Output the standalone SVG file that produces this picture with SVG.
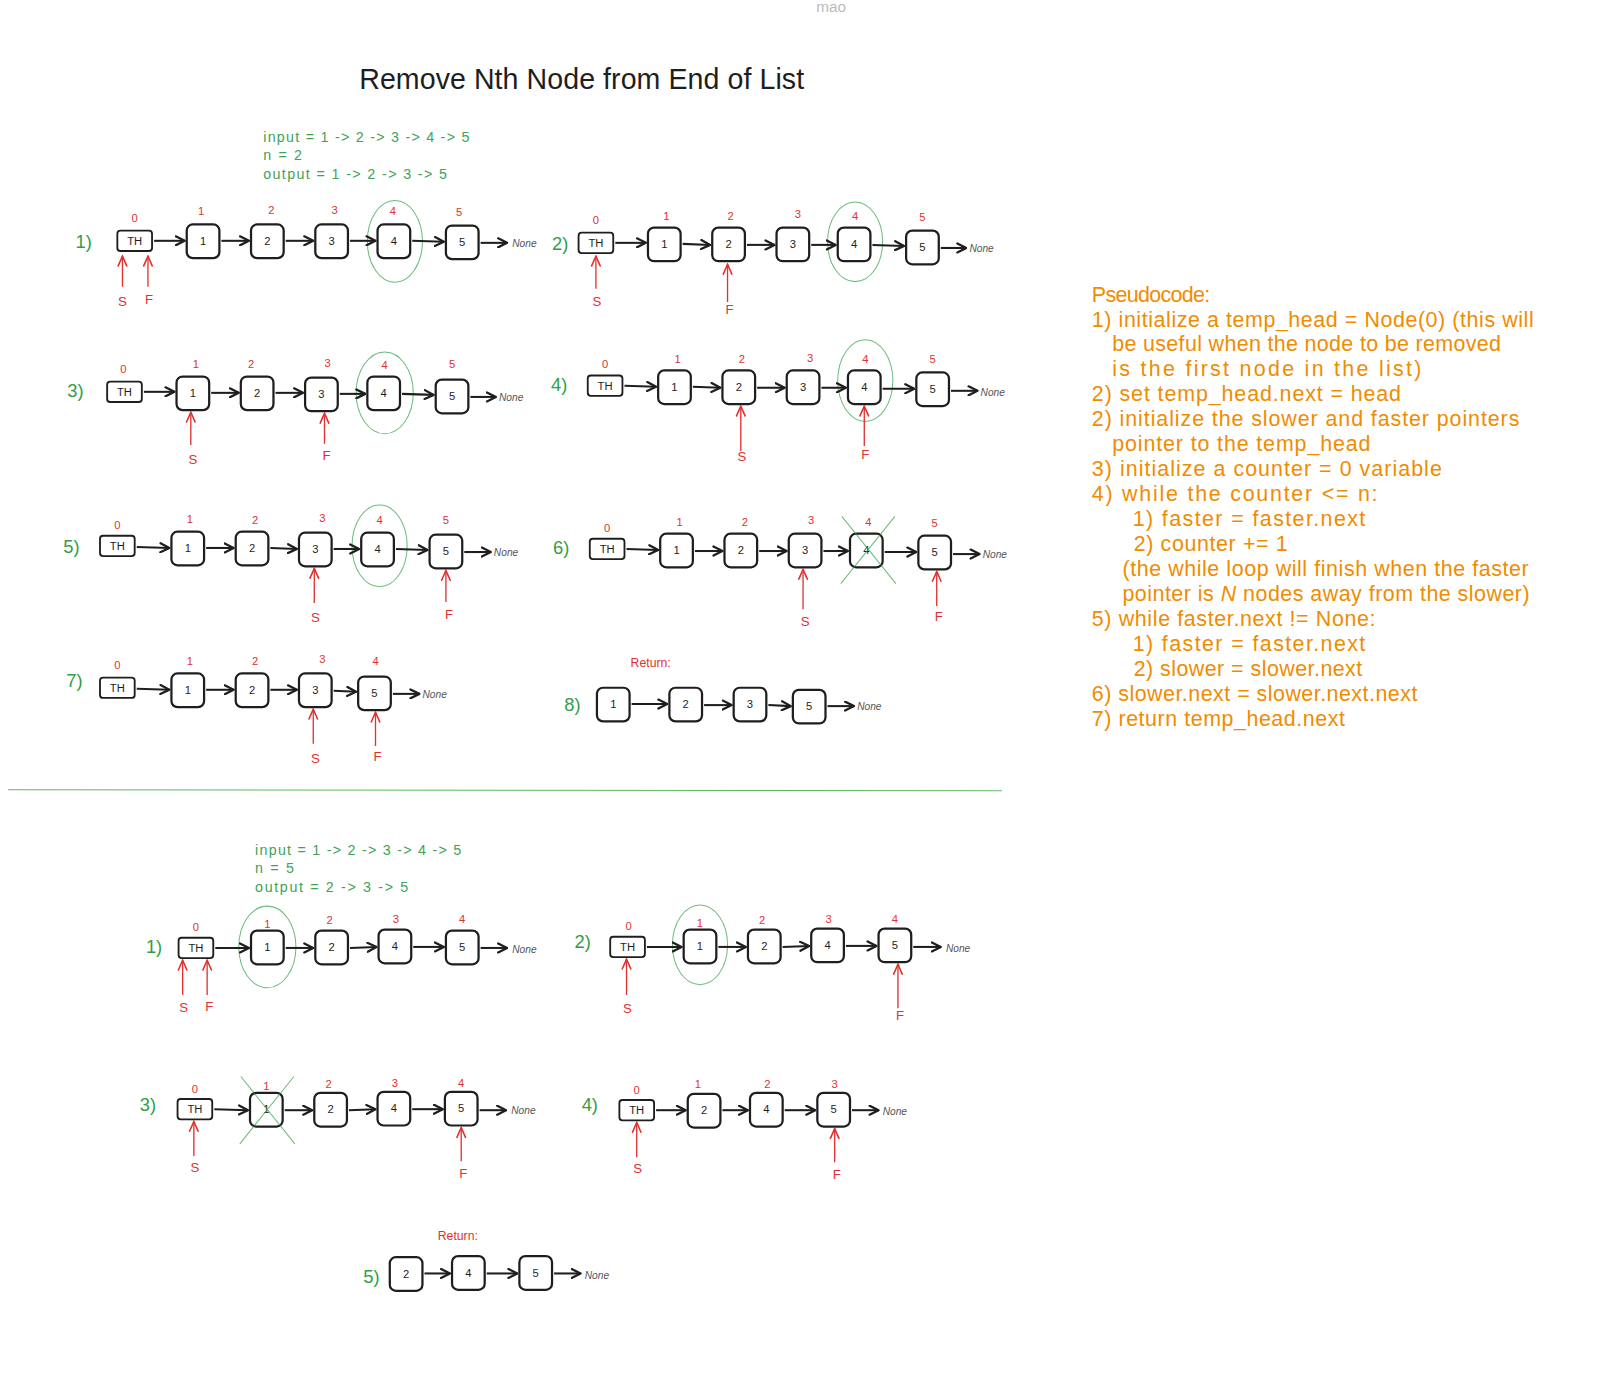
<svg xmlns="http://www.w3.org/2000/svg" width="1600" height="1391" viewBox="0 0 1600 1391">
<defs>
<marker id="ah" viewBox="0 0 10 10" refX="9" refY="5" markerWidth="11" markerHeight="11" markerUnits="userSpaceOnUse" orient="auto"><path d="M1,1 L9,5 L1,9" fill="none" stroke="#1e1e1e" stroke-width="2" stroke-linecap="round" stroke-linejoin="round"/></marker>
<marker id="rh" viewBox="0 0 10 10" refX="9" refY="5" markerWidth="12" markerHeight="12" markerUnits="userSpaceOnUse" orient="auto"><path d="M1,1.5 L9,5 L1,8.5" fill="none" stroke="#e03131" stroke-width="1.3" stroke-linecap="round"/></marker>
<style>
.bx{fill:#fff;stroke:#1e1e1e;stroke-width:2.2}
.th{fill:#fff;stroke:#1e1e1e;stroke-width:1.8}
.nt{font-family:"Liberation Sans",Arial,sans-serif;font-size:11px;fill:#1e1e1e;text-anchor:middle}
.idx{font-family:"Liberation Sans",Arial,sans-serif;font-size:11px;fill:#e03131;text-anchor:middle}
.st{font-family:"Liberation Sans",Arial,sans-serif;font-size:18px;fill:#2f9e44}
.no{font-family:"Liberation Sans",Arial,sans-serif;font-size:10px;fill:#555;font-style:italic}
.gt{font-family:"Liberation Sans",Arial,sans-serif;font-size:14px;fill:#40a356}
.rt{font-family:"Liberation Sans",Arial,sans-serif;font-size:12px;fill:#e03131}
.pl{font-family:"Liberation Sans",Arial,sans-serif;font-size:13px;fill:#e03131;text-anchor:middle}
.ln{stroke:#1e1e1e;stroke-width:2;fill:none;marker-end:url(#ah)}
.pt{stroke:#e03131;stroke-width:1.3;fill:none;marker-end:url(#rh)}
.el{fill:none;stroke:#2f9e44;stroke-width:1;opacity:0.7}
.ps{font-family:"Liberation Sans",Arial,sans-serif;font-size:21px;fill:#f08c00}
</style>
</defs>
<rect width="1600" height="1391" fill="#fff"/>
<g transform="scale(1.0204)">
<text x="800" y="12" font-family="Liberation Sans, Arial, sans-serif" font-size="15" fill="#bbb">mao</text>
<text x="352" y="87" font-family="Liberation Sans, Arial, sans-serif" font-size="28" fill="#1e1e1e" textLength="436">Remove Nth Node from End of List</text>
<g id="info-a">
<text class="gt" x="258" y="139" textLength="202">input = 1 -&gt; 2 -&gt; 3 -&gt; 4 -&gt; 5</text>
<text class="gt" x="258" y="157" textLength="38">n = 2</text>
<text class="gt" x="258" y="175" textLength="180">output = 1 -&gt; 2 -&gt; 3 -&gt; 5</text>
</g>

<!-- Row A1 -->
<g id="a1-labels">
<text class="st" x="74" y="243">1)</text>
<text class="idx" x="132" y="218">0</text><text class="idx" x="197" y="211">1</text><text class="idx" x="266" y="210">2</text><text class="idx" x="328" y="210">3</text><text class="idx" x="385" y="211">4</text><text class="idx" x="450" y="212">5</text>
<text class="no" x="502" y="242">None</text>
<ellipse class="el" cx="387" cy="236.5" rx="27" ry="40"/>
<text class="pl" x="120" y="300">S</text><text class="pl" x="146" y="298">F</text>
</g>
<g id="a1-th"><rect class="th" x="115" y="226" width="34" height="20" rx="3"/><text class="nt" x="132" y="240">TH</text></g>
<g id="a1-n1"><rect class="bx" x="183" y="220" width="32" height="33" rx="6"/><text class="nt" x="199" y="240">1</text></g>
<g id="a1-n2"><rect class="bx" x="246" y="220" width="32" height="33" rx="6"/><text class="nt" x="262" y="240">2</text></g>
<g id="a1-n3"><rect class="bx" x="309" y="220" width="32" height="33" rx="6"/><text class="nt" x="325" y="240">3</text></g>
<g id="a1-n4"><rect class="bx" x="370" y="220" width="32" height="33" rx="6"/><text class="nt" x="386" y="240">4</text></g>
<g id="a1-n5"><rect class="bx" x="437" y="221" width="32" height="33" rx="6"/><text class="nt" x="453" y="241">5</text></g>

<!-- Row A2 -->
<g id="a2-labels">
<text class="st" x="541" y="245">2)</text>
<text class="idx" x="584" y="220">0</text><text class="idx" x="653" y="216">1</text><text class="idx" x="716" y="216">2</text><text class="idx" x="782" y="214">3</text><text class="idx" x="838" y="216">4</text><text class="idx" x="904" y="217">5</text>
<text class="no" x="950" y="247">None</text>
<ellipse class="el" cx="838" cy="237" rx="27" ry="39"/>
<text class="pl" x="585" y="300">S</text><text class="pl" x="715" y="308">F</text>
</g>
<g id="a2-th"><rect class="th" x="567" y="228" width="34" height="20" rx="3"/><text class="nt" x="584" y="242">TH</text></g>
<g id="a2-n1"><rect class="bx" x="635" y="223" width="32" height="33" rx="6"/><text class="nt" x="651" y="243">1</text></g>
<g id="a2-n2"><rect class="bx" x="698" y="223" width="32" height="33" rx="6"/><text class="nt" x="714" y="243">2</text></g>
<g id="a2-n3"><rect class="bx" x="761" y="223" width="32" height="33" rx="6"/><text class="nt" x="777" y="243">3</text></g>
<g id="a2-n4"><rect class="bx" x="821" y="223" width="32" height="33" rx="6"/><text class="nt" x="837" y="243">4</text></g>
<g id="a2-n5"><rect class="bx" x="888" y="226" width="32" height="33" rx="6"/><text class="nt" x="904" y="246">5</text></g>

<!-- Row A3 -->
<g id="a3-labels">
<text class="st" x="66" y="389">3)</text>
<text class="idx" x="121" y="366">0</text><text class="idx" x="192" y="361">1</text><text class="idx" x="246" y="361">2</text><text class="idx" x="321" y="360">3</text><text class="idx" x="377" y="362">4</text><text class="idx" x="443" y="361">5</text>
<text class="no" x="489" y="393">None</text>
<ellipse class="el" cx="377" cy="385" rx="28" ry="40"/>
<text class="pl" x="189" y="455">S</text><text class="pl" x="320" y="451">F</text>
</g>
<g id="a3-th"><rect class="th" x="105" y="374" width="34" height="20" rx="3"/><text class="nt" x="122" y="388">TH</text></g>
<g id="a3-n1"><rect class="bx" x="173" y="369" width="32" height="33" rx="6"/><text class="nt" x="189" y="389">1</text></g>
<g id="a3-n2"><rect class="bx" x="236" y="369" width="32" height="33" rx="6"/><text class="nt" x="252" y="389">2</text></g>
<g id="a3-n3"><rect class="bx" x="299" y="370" width="32" height="33" rx="6"/><text class="nt" x="315" y="390">3</text></g>
<g id="a3-n4"><rect class="bx" x="360" y="369" width="32" height="33" rx="6"/><text class="nt" x="376" y="389">4</text></g>
<g id="a3-n5"><rect class="bx" x="427" y="372" width="32" height="33" rx="6"/><text class="nt" x="443" y="392">5</text></g>

<!-- Row A4 -->
<g id="a4-labels">
<text class="st" x="540" y="383">4)</text>
<text class="idx" x="593" y="361">0</text><text class="idx" x="664" y="356">1</text><text class="idx" x="727" y="356">2</text><text class="idx" x="794" y="355">3</text><text class="idx" x="848" y="356">4</text><text class="idx" x="914" y="356">5</text>
<text class="no" x="961" y="388">None</text>
<ellipse class="el" cx="848" cy="373" rx="27" ry="40"/>
<text class="pl" x="727" y="452">S</text><text class="pl" x="848" y="450">F</text>
</g>
<g id="a4-th"><rect class="th" x="576" y="368" width="34" height="20" rx="3"/><text class="nt" x="593" y="382">TH</text></g>
<g id="a4-n1"><rect class="bx" x="645" y="363" width="32" height="33" rx="6"/><text class="nt" x="661" y="383">1</text></g>
<g id="a4-n2"><rect class="bx" x="708" y="363" width="32" height="33" rx="6"/><text class="nt" x="724" y="383">2</text></g>
<g id="a4-n3"><rect class="bx" x="771" y="363" width="32" height="33" rx="6"/><text class="nt" x="787" y="383">3</text></g>
<g id="a4-n4"><rect class="bx" x="831" y="363" width="32" height="33" rx="6"/><text class="nt" x="847" y="383">4</text></g>
<g id="a4-n5"><rect class="bx" x="898" y="365" width="32" height="33" rx="6"/><text class="nt" x="914" y="385">5</text></g>

<!-- Row A5 -->
<g id="a5-labels">
<text class="st" x="62" y="542">5)</text>
<text class="idx" x="115" y="518">0</text><text class="idx" x="186" y="513">1</text><text class="idx" x="250" y="514">2</text><text class="idx" x="316" y="512">3</text><text class="idx" x="372" y="514">4</text><text class="idx" x="437" y="514">5</text>
<text class="no" x="484" y="545">None</text>
<ellipse class="el" cx="372" cy="535" rx="27" ry="40"/>
<text class="pl" x="309" y="610">S</text><text class="pl" x="440" y="607">F</text>
</g>
<g id="a5-th"><rect class="th" x="98" y="525" width="34" height="20" rx="3"/><text class="nt" x="115" y="539">TH</text></g>
<g id="a5-n1"><rect class="bx" x="168" y="521" width="32" height="33" rx="6"/><text class="nt" x="184" y="541">1</text></g>
<g id="a5-n2"><rect class="bx" x="231" y="521" width="32" height="33" rx="6"/><text class="nt" x="247" y="541">2</text></g>
<g id="a5-n3"><rect class="bx" x="293" y="522" width="32" height="33" rx="6"/><text class="nt" x="309" y="542">3</text></g>
<g id="a5-n4"><rect class="bx" x="354" y="522" width="32" height="33" rx="6"/><text class="nt" x="370" y="542">4</text></g>
<g id="a5-n5"><rect class="bx" x="421" y="524" width="32" height="33" rx="6"/><text class="nt" x="437" y="544">5</text></g>

<!-- Row A6 -->
<g id="a6-labels">
<text class="st" x="542" y="543">6)</text>
<text class="idx" x="595" y="521">0</text><text class="idx" x="666" y="515">1</text><text class="idx" x="730" y="515">2</text><text class="idx" x="795" y="514">3</text><text class="idx" x="851" y="515">4</text><text class="idx" x="916" y="516">5</text>
<text class="no" x="963" y="547">None</text>
<text class="pl" x="789" y="613">S</text><text class="pl" x="920" y="609">F</text>
</g>
<g id="a6-th"><rect class="th" x="578" y="528" width="34" height="20" rx="3"/><text class="nt" x="595" y="542">TH</text></g>
<g id="a6-n1"><rect class="bx" x="647" y="523" width="32" height="33" rx="6"/><text class="nt" x="663" y="543">1</text></g>
<g id="a6-n2"><rect class="bx" x="710" y="523" width="32" height="33" rx="6"/><text class="nt" x="726" y="543">2</text></g>
<g id="a6-n3"><rect class="bx" x="773" y="523" width="32" height="33" rx="6"/><text class="nt" x="789" y="543">3</text></g>
<g id="a6-n4"><rect class="bx" x="833" y="523" width="32" height="33" rx="6"/><text class="nt" x="849" y="543">4</text>
<path d="M825,506 L878,572 M877,506 L824,572" class="el"/></g>
<g id="a6-n5"><rect class="bx" x="900" y="525" width="32" height="33" rx="6"/><text class="nt" x="916" y="545">5</text></g>

<!-- Row A7 -->
<g id="a7-labels">
<text class="st" x="65" y="673">7)</text>
<text class="idx" x="115" y="656">0</text><text class="idx" x="186" y="652">1</text><text class="idx" x="250" y="652">2</text><text class="idx" x="316" y="650">3</text><text class="idx" x="368" y="652">4</text>
<text class="no" x="414" y="684">None</text>
<text class="pl" x="309" y="748">S</text><text class="pl" x="370" y="746">F</text>
</g>
<g id="a7-th"><rect class="th" x="98" y="664" width="34" height="20" rx="3"/><text class="nt" x="115" y="678">TH</text></g>
<g id="a7-n1"><rect class="bx" x="168" y="660" width="32" height="33" rx="6"/><text class="nt" x="184" y="680">1</text></g>
<g id="a7-n2"><rect class="bx" x="231" y="660" width="32" height="33" rx="6"/><text class="nt" x="247" y="680">2</text></g>
<g id="a7-n3"><rect class="bx" x="293" y="660" width="32" height="33" rx="6"/><text class="nt" x="309" y="680">3</text></g>
<g id="a7-n5"><rect class="bx" x="351" y="663" width="32" height="33" rx="6"/><text class="nt" x="367" y="683">5</text></g>

<!-- Row A8 -->
<g id="a8-labels">
<text class="rt" x="618" y="654">Return:</text>
<text class="st" x="553" y="697">8)</text>
<text class="no" x="840" y="696">None</text>
</g>
<g id="a8-n1"><rect class="bx" x="585" y="674" width="32" height="33" rx="6"/><text class="nt" x="601" y="694">1</text></g>
<g id="a8-n2"><rect class="bx" x="656" y="674" width="32" height="33" rx="6"/><text class="nt" x="672" y="694">2</text></g>
<g id="a8-n3"><rect class="bx" x="719" y="674" width="32" height="33" rx="6"/><text class="nt" x="735" y="694">3</text></g>
<g id="a8-n5"><rect class="bx" x="777" y="676" width="32" height="33" rx="6"/><text class="nt" x="793" y="696">5</text></g>

<line x1="8" y1="774" x2="982" y2="775" stroke="#5cb85c" stroke-width="1"/>

<g id="info-b">
<text class="gt" x="250" y="838" textLength="202">input = 1 -&gt; 2 -&gt; 3 -&gt; 4 -&gt; 5</text>
<text class="gt" x="250" y="856" textLength="38">n = 5</text>
<text class="gt" x="250" y="874" textLength="150">output = 2 -&gt; 3 -&gt; 5</text>
</g>

<!-- Row B1 -->
<g id="b1-labels">
<text class="st" x="143" y="934">1)</text>
<text class="idx" x="192" y="912">0</text><text class="idx" x="262" y="909">1</text><text class="idx" x="323" y="906">2</text><text class="idx" x="388" y="905">3</text><text class="idx" x="453" y="905">4</text>
<text class="no" x="502" y="934">None</text>
<ellipse class="el" cx="262" cy="928" rx="28" ry="40"/>
<text class="pl" x="180" y="992">S</text><text class="pl" x="205" y="991">F</text>
</g>
<g id="b1-th"><rect class="th" x="175" y="919" width="34" height="20" rx="3"/><text class="nt" x="192" y="933">TH</text></g>
<g id="b1-n1"><rect class="bx" x="246" y="912" width="32" height="33" rx="6"/><text class="nt" x="262" y="932">1</text></g>
<g id="b1-n2"><rect class="bx" x="309" y="912" width="32" height="33" rx="6"/><text class="nt" x="325" y="932">2</text></g>
<g id="b1-n4"><rect class="bx" x="371" y="911" width="32" height="33" rx="6"/><text class="nt" x="387" y="931">4</text></g>
<g id="b1-n5"><rect class="bx" x="437" y="912" width="32" height="33" rx="6"/><text class="nt" x="453" y="932">5</text></g>

<!-- Row B2 -->
<g id="b2-labels">
<text class="st" x="563" y="929">2)</text>
<text class="idx" x="616" y="911">0</text><text class="idx" x="686" y="908">1</text><text class="idx" x="747" y="906">2</text><text class="idx" x="812" y="905">3</text><text class="idx" x="877" y="905">4</text>
<text class="no" x="927" y="933">None</text>
<ellipse class="el" cx="686" cy="926" rx="27" ry="39"/>
<text class="pl" x="615" y="993">S</text><text class="pl" x="882" y="1000">F</text>
</g>
<g id="b2-th"><rect class="th" x="598" y="918" width="34" height="20" rx="3"/><text class="nt" x="615" y="932">TH</text></g>
<g id="b2-n1"><rect class="bx" x="670" y="911" width="32" height="33" rx="6"/><text class="nt" x="686" y="931">1</text></g>
<g id="b2-n2"><rect class="bx" x="733" y="911" width="32" height="33" rx="6"/><text class="nt" x="749" y="931">2</text></g>
<g id="b2-n4"><rect class="bx" x="795" y="910" width="32" height="33" rx="6"/><text class="nt" x="811" y="930">4</text></g>
<g id="b2-n5"><rect class="bx" x="861" y="910" width="32" height="33" rx="6"/><text class="nt" x="877" y="930">5</text></g>

<!-- Row B3 -->
<g id="b3-labels">
<text class="st" x="137" y="1089">3)</text>
<text class="idx" x="191" y="1071">0</text><text class="idx" x="261" y="1068">1</text><text class="idx" x="322" y="1066">2</text><text class="idx" x="387" y="1065">3</text><text class="idx" x="452" y="1065">4</text>
<text class="no" x="501" y="1092">None</text>
<text class="pl" x="191" y="1149">S</text><text class="pl" x="454" y="1154">F</text>
</g>
<g id="b3-th"><rect class="th" x="174" y="1077" width="34" height="20" rx="3"/><text class="nt" x="191" y="1091">TH</text></g>
<g id="b3-n1"><rect class="bx" x="245" y="1071" width="32" height="33" rx="6"/><text class="nt" x="261" y="1091">1</text>
<path d="M236,1055 L289,1121 M288,1055 L235,1121" class="el"/></g>
<g id="b3-n2"><rect class="bx" x="308" y="1071" width="32" height="33" rx="6"/><text class="nt" x="324" y="1091">2</text></g>
<g id="b3-n4"><rect class="bx" x="370" y="1070" width="32" height="33" rx="6"/><text class="nt" x="386" y="1090">4</text></g>
<g id="b3-n5"><rect class="bx" x="436" y="1070" width="32" height="33" rx="6"/><text class="nt" x="452" y="1090">5</text></g>

<!-- Row B4 -->
<g id="b4-labels">
<text class="st" x="570" y="1089">4)</text>
<text class="idx" x="624" y="1072">0</text><text class="idx" x="684" y="1066">1</text><text class="idx" x="752" y="1066">2</text><text class="idx" x="818" y="1066">3</text>
<text class="no" x="865" y="1093">None</text>
<text class="pl" x="625" y="1150">S</text><text class="pl" x="820" y="1155">F</text>
</g>
<g id="b4-th"><rect class="th" x="607" y="1078" width="34" height="20" rx="3"/><text class="nt" x="624" y="1092">TH</text></g>
<g id="b4-n2"><rect class="bx" x="674" y="1072" width="32" height="33" rx="6"/><text class="nt" x="690" y="1092">2</text></g>
<g id="b4-n4"><rect class="bx" x="735" y="1071" width="32" height="33" rx="6"/><text class="nt" x="751" y="1091">4</text></g>
<g id="b4-n5"><rect class="bx" x="801" y="1071" width="32" height="33" rx="6"/><text class="nt" x="817" y="1091">5</text></g>

<!-- Row B5 -->
<g id="b5-labels">
<text class="rt" x="429" y="1215">Return:</text>
<text class="st" x="356" y="1257">5)</text>
<text class="no" x="573" y="1253">None</text>
</g>
<g id="b5-n2"><rect class="bx" x="382" y="1232" width="32" height="33" rx="6"/><text class="nt" x="398" y="1252">2</text></g>
<g id="b5-n4"><rect class="bx" x="443" y="1231" width="32" height="33" rx="6"/><text class="nt" x="459" y="1251">4</text></g>
<g id="b5-n5"><rect class="bx" x="509" y="1231" width="32" height="33" rx="6"/><text class="nt" x="525" y="1251">5</text></g>

<g id="connectors">
<!-- A1 -->
<path class="ln" d="M151,236 L181,236"/><path class="ln" d="M217,236 L244,236"/><path class="ln" d="M280,236 L307,236"/><path class="ln" d="M343,236 L368,236"/><path class="ln" d="M404,236 L435,237"/><path class="ln" d="M471,238 L497,238"/>
<path class="pt" d="M120,281 L120,251"/><path class="pt" d="M145,281 L145,251"/>
<!-- A2 -->
<path class="ln" d="M603,238 L633,238"/><path class="ln" d="M669,239 L696,240"/><path class="ln" d="M732,240 L759,240"/><path class="ln" d="M795,240 L819,240"/><path class="ln" d="M855,240 L886,241"/><path class="ln" d="M922,243 L947,243"/>
<path class="pt" d="M584,283 L584,251"/><path class="pt" d="M713,296 L713,259"/>
<!-- A3 -->
<path class="ln" d="M141,384 L171,384"/><path class="ln" d="M207,385 L234,385"/><path class="ln" d="M270,385 L297,385"/><path class="ln" d="M333,386 L358,386"/><path class="ln" d="M394,386 L425,387"/><path class="ln" d="M461,389 L486,389"/>
<path class="pt" d="M187,436 L187,404"/><path class="pt" d="M318,435 L318,405"/>
<!-- A4 -->
<path class="ln" d="M612,378 L643,379"/><path class="ln" d="M679,379 L706,380"/><path class="ln" d="M742,380 L769,380"/><path class="ln" d="M805,380 L829,380"/><path class="ln" d="M865,381 L896,381"/><path class="ln" d="M932,383 L958,383"/>
<path class="pt" d="M726,442 L726,398"/><path class="pt" d="M847,437 L847,398"/>
<!-- A5 -->
<path class="ln" d="M134,536 L166,537"/><path class="ln" d="M202,537 L229,537"/><path class="ln" d="M265,537 L291,538"/><path class="ln" d="M327,538 L352,538"/><path class="ln" d="M388,538 L419,539"/><path class="ln" d="M455,541 L481,541"/>
<path class="pt" d="M308,591 L308,557"/><path class="pt" d="M437,590 L437,559"/>
<!-- A6 -->
<path class="ln" d="M614,538 L645,539"/><path class="ln" d="M681,540 L708,540"/><path class="ln" d="M744,540 L771,540"/><path class="ln" d="M807,540 L831,540"/><path class="ln" d="M867,541 L898,541"/><path class="ln" d="M934,543 L960,543"/>
<path class="pt" d="M787,597 L787,558"/><path class="pt" d="M918,594 L918,560"/>
<!-- A7 -->
<path class="ln" d="M134,675 L166,676"/><path class="ln" d="M202,676 L229,676"/><path class="ln" d="M265,676 L291,676"/><path class="ln" d="M327,677 L349,678"/><path class="ln" d="M385,680 L411,680"/>
<path class="pt" d="M307,729 L307,695"/><path class="pt" d="M368,731 L368,698"/>
<!-- A8 -->
<path class="ln" d="M619,690 L654,690"/><path class="ln" d="M690,691 L717,691"/><path class="ln" d="M753,691 L775,692"/><path class="ln" d="M811,692 L837,692"/>
<!-- B1 -->
<path class="ln" d="M211,929 L244,929"/><path class="ln" d="M280,929 L307,929"/><path class="ln" d="M343,929 L369,928"/><path class="ln" d="M405,928 L435,928"/><path class="ln" d="M471,929 L497,929"/>
<path class="pt" d="M179,975 L179,941"/><path class="pt" d="M203,975 L203,941"/>
<!-- B2 -->
<path class="ln" d="M634,928 L668,928"/><path class="ln" d="M704,928 L731,928"/><path class="ln" d="M767,928 L793,927"/><path class="ln" d="M829,927 L859,927"/><path class="ln" d="M895,928 L922,928"/>
<path class="pt" d="M614,975 L614,940"/><path class="pt" d="M880,988 L880,945"/>
<!-- B3 -->
<path class="ln" d="M210,1087 L243,1088"/><path class="ln" d="M279,1088 L306,1088"/><path class="ln" d="M342,1088 L368,1087"/><path class="ln" d="M404,1087 L434,1087"/><path class="ln" d="M470,1088 L496,1088"/>
<path class="pt" d="M190,1133 L190,1099"/><path class="pt" d="M452,1138 L452,1105"/>
<!-- B4 -->
<path class="ln" d="M643,1088 L672,1088"/><path class="ln" d="M708,1088 L733,1088"/><path class="ln" d="M769,1088 L799,1088"/><path class="ln" d="M835,1088 L861,1088"/>
<path class="pt" d="M624,1134 L624,1100"/><path class="pt" d="M818,1139 L818,1106"/>
<!-- B5 -->
<path class="ln" d="M416,1248 L441,1248"/><path class="ln" d="M477,1248 L507,1248"/><path class="ln" d="M543,1248 L569,1248"/>
</g>

<g id="pseudocode">
<text class="ps" x="1070" y="296" textLength="116">Pseudocode:</text>
<text class="ps" x="1070" y="320" textLength="433">1) initialize a temp_head = Node(0) (this will</text>
<text class="ps" x="1090" y="344" textLength="381">be useful when the node to be removed</text>
<text class="ps" x="1090" y="368" textLength="303">is the first node in the list)</text>
<text class="ps" x="1070" y="393" textLength="303">2) set temp_head.next = head</text>
<text class="ps" x="1070" y="417" textLength="419">2) initialize the slower and faster pointers</text>
<text class="ps" x="1090" y="442" textLength="253">pointer to the temp_head</text>
<text class="ps" x="1070" y="466" textLength="343">3) initialize a counter = 0 variable</text>
<text class="ps" x="1070" y="491" textLength="280">4) while the counter &lt;= n:</text>
<text class="ps" x="1110" y="515" textLength="228">1) faster = faster.next</text>
<text class="ps" x="1111" y="540" textLength="151">2) counter += 1</text>
<text class="ps" x="1100" y="564" textLength="398">(the while loop will finish when the faster</text>
<text class="ps" x="1100" y="589" textLength="399">pointer is <tspan font-style="italic">N</tspan> nodes away from the slower)</text>
<text class="ps" x="1070" y="613" textLength="278">5) while faster.next != None:</text>
<text class="ps" x="1110" y="638" textLength="228">1) faster = faster.next</text>
<text class="ps" x="1111" y="662" textLength="224">2) slower = slower.next</text>
<text class="ps" x="1070" y="687" textLength="319">6) slower.next = slower.next.next</text>
<text class="ps" x="1070" y="711" textLength="248">7) return temp_head.next</text>
</g>
</g>
</svg>
